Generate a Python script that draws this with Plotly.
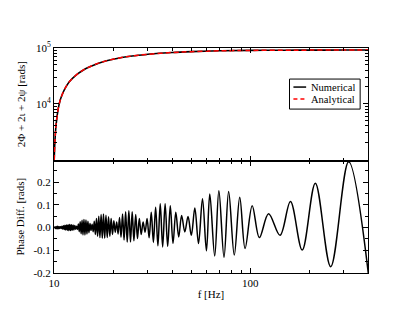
import plotly.graph_objects as go
from plotly.subplots import make_subplots

# top panel: 2Phi + 2iota + 2psi vs frequency
f_phase = [10.0, 10.1, 10.25, 10.5, 10.75, 11, 11.5, 12, 13, 14, 15, 17, 20,
           25, 30, 40, 50, 70, 100, 150, 200, 300, 400]
phase_num = [700, 2000, 4200, 8000, 11500, 14500, 20000, 25000, 33000, 39500,
             45000, 54000, 63000, 72000, 77000, 83000, 86000, 89000, 90500,
             91300, 91600, 91900, 92000]
phase_ana = [700, 2000, 4200, 8000, 11500, 14500, 20000, 25000, 33000, 39500,
             45000, 54000, 63000, 72000, 77000, 83000, 86000, 89000, 90500,
             91300, 91600, 91900, 92000]

# bottom panel: phase difference, turning points of the oscillation
f_diff = [
    10.005, 10.09, 10.17, 10.25, 10.34, 10.42, 10.51, 10.60, 10.69, 10.78,
    10.88, 10.97, 11.07, 11.17, 11.27, 11.37, 11.47, 11.58, 11.69, 11.80,
    11.91, 12.03, 12.14, 12.26, 12.38, 12.51, 12.63, 12.76, 12.89, 13.03,
    13.17, 13.31, 13.45, 13.60, 13.75, 13.90, 14.05, 14.21, 14.38, 14.55,
    14.72, 14.89, 15.07, 15.26, 15.44, 15.64, 15.84, 16.04, 16.25, 16.46,
    16.68, 16.91, 17.14, 17.38, 17.62, 17.87, 18.13, 18.40, 18.67, 18.96,
    19.25, 19.55, 19.86, 20.18, 20.51, 20.86, 21.21, 21.57, 21.95, 22.35,
    22.75, 23.17, 23.61, 24.07, 24.54, 25.03, 25.54, 26.08, 26.63, 27.21,
    27.82, 28.45, 29.11, 29.81, 30.53, 31.30, 32.10, 32.95, 33.84, 34.78,
    35.78, 36.83, 37.95, 39.14, 40.4, 41.75, 43.2, 44.7, 46.4, 48.2,
    50.1, 52.2, 54.5, 57.1, 59.8, 62.2, 65.9, 69.2, 73.5, 77.6,
    82.9, 88.4, 94.1, 102.3, 111.3, 124.0, 141.8, 160.3, 184.0, 214.6,
    257.0, 317.3,
    400.0,
]
diff_vals = [
    -0.002, 0.003, -0.004, 0.005, -0.005, 0.006, -0.005, 0.005, -0.004, 0.004,
    -0.004, 0.006, -0.006, 0.008, -0.008, 0.010, -0.010, 0.012, -0.012, 0.013,
    -0.013, 0.014, -0.013, 0.013, -0.012, 0.012, -0.010, 0.009, -0.007, 0.006,
    -0.008, 0.016, -0.018, 0.026, -0.027, 0.033, -0.032, 0.036, -0.032, 0.034,
    -0.028, 0.028, -0.022, 0.018, -0.012, 0.015, -0.018, 0.028, -0.030, 0.040,
    -0.038, 0.050, -0.044, 0.058, -0.047, 0.060, -0.047, 0.055, -0.044, 0.048,
    -0.038, 0.040, -0.030, 0.030, -0.020, 0.025, -0.028, 0.045, -0.042, 0.060,
    -0.055, 0.070, -0.063, 0.075, -0.063, 0.070, -0.058, 0.058, -0.048, 0.040,
    -0.030, 0.025, -0.020, 0.040, -0.045, 0.068, -0.065, 0.090, -0.080, 0.105,
    -0.085, 0.105, -0.082, 0.097, -0.070, 0.068, -0.041, 0.054, -0.019, 0.049,
    -0.034, 0.087, -0.070, 0.127, -0.102, 0.148, -0.125, 0.163, -0.131, 0.159,
    -0.121, 0.134, -0.092, 0.097, -0.044, 0.061, -0.034, 0.115, -0.099, 0.196,
    -0.172, 0.290,
    -0.205,
]

series_names = ["Numerical", "Analytical"]
series_colors = ["black", "red"]

font = "Liberation Serif"

fig = make_subplots(rows=2, cols=1, shared_xaxes=True, vertical_spacing=0)

fig.add_trace(go.Scatter(x=f_phase, y=phase_num, mode="lines",
                         name=series_names[0], showlegend=False,
                         line=dict(color=series_colors[0], width=1.6,
                                   shape="spline")),
              row=1, col=1)
fig.add_trace(go.Scatter(x=f_phase, y=phase_ana, mode="lines",
                         name=series_names[1], showlegend=False,
                         line=dict(color=series_colors[1], width=1.5,
                                   dash="5px,3px", shape="spline")),
              row=1, col=1)
fig.add_trace(go.Scatter(x=f_diff, y=diff_vals, mode="lines", showlegend=False,
                         line=dict(color="black", width=1.5, shape="spline",
                                   smoothing=1)),
              row=2, col=1)

# page has an 8px body margin, so the figure is 8px smaller than the window
fig.update_layout(
    width=407, height=313,
    margin=dict(l=40, r=47, t=40, b=48),
    plot_bgcolor="white", paper_bgcolor="white",
    font=dict(family=font, size=11, color="black"),
)

# compact legend box drawn by hand, like the original
fig.add_shape(type="rect", xref="paper", yref="paper",
              x0=0.75, x1=0.975, y0=0.7285, y1=0.862,
              line=dict(color="black", width=1), fillcolor="white", layer="above")
for i, (name, color) in enumerate(zip(series_names, series_colors)):
    yy = 0.8264 - i * 0.0534
    fig.add_shape(type="line", xref="paper", yref="paper",
                  x0=0.7625, x1=0.803, y0=yy, y1=yy, layer="above",
                  line=dict(color=color, width=1.5,
                            dash="solid" if i == 0 else "4px,3px"))
    fig.add_annotation(text=name, xref="paper", yref="paper", x=0.816, y=yy,
                       xanchor="left", yanchor="middle", showarrow=False,
                       height=11, borderpad=0,
                       font=dict(family=font, size=10.5))

minor_x = [20, 30, 40, 50, 60, 70, 80, 90, 200, 300]
axis_style = dict(showline=True, linecolor="black", linewidth=1, mirror="ticks",
                  ticks="inside", ticklen=5, tickcolor="black", showgrid=False,
                  zeroline=False)

fig.update_xaxes(type="log", range=[1, 2.6], tickvals=[10, 100],
                 ticktext=["10", "100"],
                 minor=dict(tickvals=minor_x, ticks="inside", ticklen=3,
                            tickcolor="black"),
                 **axis_style)
fig.update_xaxes(showticklabels=False, row=1, col=1)
fig.update_xaxes(title=dict(text="f [Hz]", standoff=2,
                            font=dict(family=font, size=11)), row=2, col=1)

minor_y = [2000, 3000, 4000, 5000, 6000, 7000, 8000, 9000,
           20000, 30000, 40000, 50000, 60000, 70000, 80000, 90000]
fig.update_yaxes(type="log", range=[2.98, 5.0], tickvals=[1e4, 1e5],
                 ticktext=["10<sup>4</sup>", "10<sup>5</sup>"],
                 minor=dict(tickvals=minor_y, ticks="inside", ticklen=3,
                            tickcolor="black"),
                 title=dict(text="2Φ + 2ι + 2ψ [rads]", standoff=8,
                            font=dict(family=font, size=11)),
                 row=1, col=1, **axis_style)
fig.update_yaxes(range=[-0.2, 0.296],
                 tickvals=[-0.2, -0.1, 0.0, 0.1, 0.2],
                 ticktext=["-0.2", "-0.1", "0.0", "0.1", "0.2"],
                 minor=dict(dtick=0.05, tick0=0, ticks="inside", ticklen=3,
                            tickcolor="black"),
                 title=dict(text="Phase Diff. [rads]", standoff=6,
                            font=dict(family=font, size=11)),
                 row=2, col=1, **axis_style)

fig.write_html("out.html")
